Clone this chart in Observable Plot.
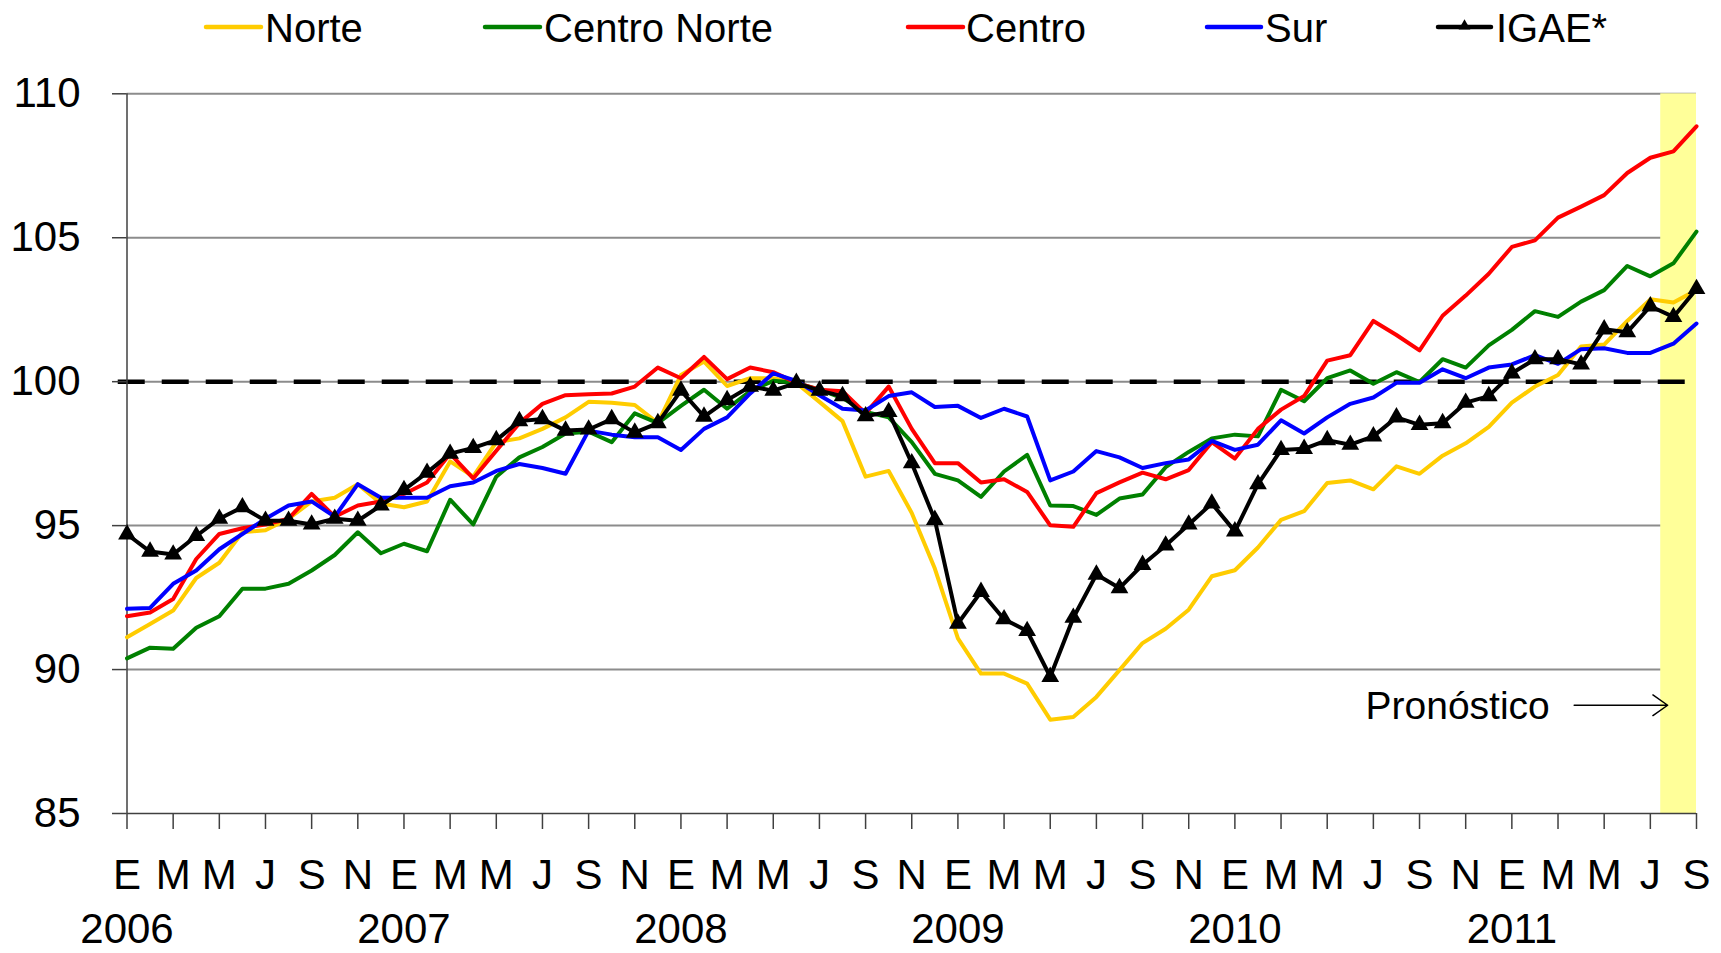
<!DOCTYPE html>
<html>
<head>
<meta charset="utf-8">
<script src="https://cdn.jsdelivr.net/npm/d3@7"></script>
<script src="https://cdn.jsdelivr.net/npm/@observablehq/plot@0.6"></script>
<style>
  html, body { margin: 0; padding: 0; background: #fff; overflow: hidden; }
  #legend { width: 1721px; height: 56px; display: block; }
  #chart svg { display: block; }
</style>
</head>
<body>
<svg id="legend" width="1721" height="56"></svg>
<div id="chart"></div>
<script>
// ---- Data: monthly index, Jan 2006 (0) .. Sep 2011 (68) ----
const norte = [91.12, 91.58, 92.05, 93.18, 93.71, 94.77, 94.84, 95.24, 95.84, 95.97, 96.44, 95.77,
  95.64, 95.84, 97.23, 96.70, 97.90, 98.03, 98.36, 98.76, 99.30, 99.27, 99.19, 98.56,
  100.23, 100.70, 99.85, 100.12, 100.12, 99.96, 99.30, 98.63, 96.70, 96.90, 95.44, 93.51,
  91.08, 89.86, 89.86, 89.51, 88.26, 88.35, 89.05, 89.98, 90.92, 91.42, 92.08, 93.24,
  93.45, 94.24, 95.20, 95.50, 96.48, 96.57, 96.26, 97.06, 96.80, 97.43, 97.86, 98.43,
  99.27, 99.83, 100.23, 101.22, 101.29, 102.11, 102.86, 102.75, 103.18];
const centroNorte = [90.39, 90.76, 90.72, 91.45, 91.85, 92.81, 92.81, 92.98, 93.44, 93.98, 94.77, 94.04,
  94.37, 94.11, 95.90, 95.04, 96.70, 97.37, 97.73, 98.20, 98.26, 97.90, 98.90, 98.56,
  99.16, 99.72, 99.06, 99.67, 100.03, 99.96, 99.72, 99.43, 98.95, 98.76, 97.90, 96.80,
  96.57, 96.00, 96.88, 97.46, 95.70, 95.68, 95.37, 95.94, 96.08, 97.03, 97.56, 98.03,
  98.16, 98.10, 99.72, 99.32, 100.12, 100.39, 99.93, 100.33, 99.99, 100.78, 100.49, 101.26,
  101.80, 102.45, 102.25, 102.78, 103.18, 104.02, 103.66, 104.11, 105.21];
const centro = [91.85, 91.98, 92.45, 93.84, 94.71, 94.91, 95.04, 95.24, 96.10, 95.31, 95.70, 95.84,
  96.10, 96.50, 97.50, 96.64, 97.60, 98.56, 99.23, 99.53, 99.56, 99.59, 99.83, 100.49,
  100.12, 100.86, 100.09, 100.49, 100.33, 99.96, 99.72, 99.67, 98.90, 99.83, 98.36, 97.17,
  97.17, 96.50, 96.61, 96.17, 95.01, 94.96, 96.13, 96.50, 96.84, 96.61, 96.93, 97.90,
  97.33, 98.36, 99.03, 99.50, 100.73, 100.92, 102.11, 101.62, 101.09, 102.29, 102.99, 103.75,
  104.68, 104.91, 105.70, 106.08, 106.48, 107.25, 107.78, 108.00, 108.87];
const sur = [92.11, 92.14, 92.98, 93.44, 94.18, 94.71, 95.24, 95.70, 95.84, 95.31, 96.44, 95.97,
  95.97, 95.97, 96.37, 96.50, 96.90, 97.14, 97.00, 96.80, 98.30, 98.16, 98.07, 98.07,
  97.63, 98.36, 98.76, 99.59, 100.29, 100.03, 99.53, 99.06, 99.00, 99.50, 99.63, 99.12,
  99.16, 98.74, 99.06, 98.79, 96.57, 96.88, 97.59, 97.37, 97.00, 97.17, 97.30, 97.94,
  97.63, 97.81, 98.66, 98.20, 98.76, 99.23, 99.45, 99.96, 99.96, 100.43, 100.12, 100.49,
  100.60, 100.92, 100.62, 101.13, 101.16, 101.00, 101.00, 101.32, 102.02];
const igae = [94.70, 94.10, 94.00, 94.64, 95.24, 95.64, 95.17, 95.17, 95.04, 95.24, 95.17, 95.70,
  96.24, 96.84, 97.50, 97.70, 97.97, 98.63, 98.70, 98.30, 98.34, 98.70, 98.23, 98.56,
  99.69, 98.79, 99.36, 99.83, 99.69, 99.96, 99.69, 99.50, 98.80, 98.95, 97.17, 95.20,
  91.60, 92.70, 91.75, 91.34, 89.75, 91.80, 93.30, 92.83, 93.64, 94.31, 95.04, 95.77,
  94.80, 96.44, 97.63, 97.67, 97.97, 97.81, 98.10, 98.76, 98.50, 98.56, 99.27, 99.50,
  100.29, 100.78, 100.78, 100.60, 101.82, 101.72, 102.62, 102.25, 103.22];

const etiquetasMes = ["E", "F", "M", "A", "M", "J", "J", "A", "S", "O", "N", "D"];
const anios = ["2006", "2007", "2008", "2009", "2010", "2011"];
const nombresSeries = ["Norte", "Centro Norte", "Centro", "Sur", "IGAE*"];
const ticksY = [85, 90, 95, 100, 105, 110];
const base = 100;
const pronostico = [{desde: 66.45, hasta: 68}];
const notaTexto = [{texto: "Pronóstico", mes: 53.66, valor: 88.72}];
const notaFlecha = [{mes1: 62.7, mes2: 66.75, valor: 88.76}];

// ---- Styles ----
const colores = {"Norte": "#FFCC00", "Centro Norte": "#008000", "Centro": "#FF0000", "Sur": "#0000FF", "IGAE*": "#000000"};
const valoresPorSerie = {"Norte": norte, "Centro Norte": centroNorte, "Centro": centro, "Sur": sur, "IGAE*": igae};
const FONT = "'Liberation Sans', Arial, sans-serif";

const filas = nombresSeries.map(s => valoresPorSerie[s].map((v, i) => ({serie: s, mes: i, valor: v})));
const n = igae.length - 1;

const lineMarks = filas.map((rows, k) => Plot.line(rows, {
  x: "mes", y: "valor", stroke: colores[nombresSeries[k]], strokeWidth: 4,
  strokeLinejoin: "round", strokeLinecap: "round"
}));

const chart = Plot.plot({
  width: 1721,
  height: 897,
  marginLeft: 126.5,
  marginRight: 25,
  marginTop: 37.3,
  marginBottom: 140,
  style: {fontFamily: FONT, fontSize: "42px", color: "black", background: "white"},
  x: {type: "linear", domain: [0, n]},
  y: {domain: [85, 110]},
  marks: [
    Plot.ruleY(ticksY.slice(1), {x1: 0, x2: n, stroke: "#8c8c8c", strokeWidth: 2}),
    Plot.rect(pronostico, {x1: "desde", x2: "hasta", y1: 85, y2: 110, fill: "#FFFF99"}),
    Plot.ruleY([base], {x1: -0.38, x2: 67.6, stroke: "black", strokeWidth: 4.5, strokeDasharray: "27,17"}),
    Plot.ruleY([85], {x1: 0, x2: n, stroke: "#404040", strokeWidth: 1.5}),
    Plot.ruleX([0], {y1: 85, y2: 110, stroke: "#404040", strokeWidth: 1.5}),
    ...lineMarks,
    Plot.dot(filas[4], {x: "mes", y: "valor", symbol: "triangle", r: 6.6, fill: "black", stroke: "none"}),
    Plot.text(notaTexto, {x: "mes", y: "valor", text: "texto", textAnchor: "start", lineAnchor: "middle", fontSize: 39, fill: "black"}),
    Plot.arrow(notaFlecha, {x1: "mes1", x2: "mes2", y1: "valor", y2: "valor", stroke: "black", strokeWidth: 1.5, headLength: 18, headAngle: 70}),
    Plot.axisY({ticks: ticksY, tickSize: 14.5, tickPadding: 32, fontSize: 42, label: null, stroke: "#404040", strokeWidth: 1.5, fill: "black"}),
    Plot.axisX({ticks: d3.range(0, n + 1, 2), tickFormat: i => etiquetasMes[i % 12], tickSize: 16, tickPadding: 30, fontSize: 42, label: null, stroke: "#404040", strokeWidth: 1.5, fill: "black"}),
    Plot.axisX({ticks: d3.range(0, n + 1, 12), tickFormat: i => anios[i / 12], tickSize: 0, tickPadding: 100, fontSize: 42, label: null, fill: "black"})
  ]
});
document.getElementById("chart").appendChild(chart);

// ---- Legend (above the SVG) ----
const legendPos = [
  {x1: 206, x2: 261, tx: 265},
  {x1: 485, x2: 540, tx: 544},
  {x1: 908, x2: 963, tx: 966},
  {x1: 1207, x2: 1261, tx: 1265},
  {x1: 1438, x2: 1491, tx: 1496}
];
const lg = d3.select("#legend");
nombresSeries.forEach((s, k) => {
  const p = legendPos[k];
  lg.append("line").attr("x1", p.x1).attr("x2", p.x2).attr("y1", 27).attr("y2", 27)
    .attr("stroke", colores[s]).attr("stroke-width", 4.5).attr("stroke-linecap", "round");
  if (s === "IGAE*") {
    const c = (p.x1 + p.x2) / 2;
    lg.append("path").attr("d", d3.symbol(d3.symbolTriangle, 60)()).attr("transform", `translate(${c},26)`).attr("fill", "black");
  }
  lg.append("text").attr("x", p.tx).attr("y", 42).attr("font-family", FONT).attr("font-size", 40)
    .attr("fill", "black").text(s);
});
</script>
</body>
</html>
